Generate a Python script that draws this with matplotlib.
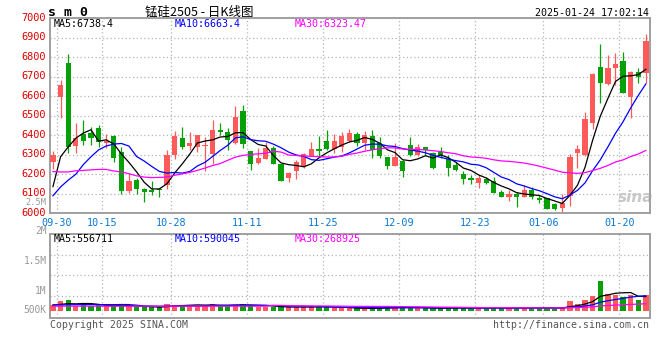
import numpy as np
import matplotlib
matplotlib.use("Agg")
import matplotlib.pyplot as plt
from matplotlib.transforms import ScaledTranslation

# ---------------- data ----------------
dates = ["09-30",
         "10-08", "10-09", "10-10", "10-11", "10-14", "10-15", "10-16", "10-17", "10-18",
         "10-21", "10-22", "10-23", "10-24", "10-25", "10-28", "10-29", "10-30", "10-31", "11-01",
         "11-04", "11-05", "11-06", "11-07", "11-08", "11-11", "11-12", "11-13", "11-14", "11-15",
         "11-18", "11-19", "11-20", "11-21", "11-22", "11-25", "11-26", "11-27", "11-28", "11-29",
         "12-02", "12-03", "12-04", "12-05", "12-06", "12-09", "12-10", "12-11", "12-12", "12-13",
         "12-16", "12-17", "12-18", "12-19", "12-20", "12-23", "12-24", "12-25", "12-26", "12-27",
         "12-30", "12-31", "01-02", "01-03", "01-06", "01-07", "01-08", "01-09", "01-10",
         "01-13", "01-14", "01-15", "01-16", "01-17", "01-20", "01-21", "01-22", "01-23", "01-24"]

opens = [6265, 6598, 6773, 6345, 6407, 6414, 6436, 6359, 6397, 6316,
         6116, 6171, 6125, 6121, 6124, 6145, 6300, 6386, 6347, 6338,
         6345, 6304, 6427, 6415, 6359, 6525, 6320, 6257, 6280, 6337,
         6251, 6179, 6217, 6236, 6296, 6330, 6371, 6330, 6342, 6371,
         6405, 6362, 6398, 6362, 6291, 6243, 6268, 6350, 6299, 6338,
         6308, 6316, 6279, 6248, 6200, 6183, 6157, 6176, 6166, 6108,
         6085, 6099, 6085, 6120, 6080, 6077, 6048, 6026, 6089, 6308,
         6299, 6465, 6752, 6662, 6744, 6781, 6598, 6723, 6721]
highs = [6320, 6684, 6817, 6461, 6479, 6441, 6453, 6405, 6402, 6342,
         6205, 6183, 6130, 6166, 6128, 6325, 6424, 6445, 6419, 6402,
         6393, 6479, 6465, 6436, 6552, 6556, 6320, 6333, 6367, 6345,
         6251, 6210, 6273, 6311, 6364, 6394, 6427, 6407, 6419, 6432,
         6419, 6424, 6427, 6393, 6291, 6359, 6273, 6393, 6354, 6342,
         6313, 6342, 6299, 6265, 6217, 6197, 6197, 6188, 6188, 6120,
         6120, 6111, 6145, 6137, 6094, 6080, 6051, 6099, 6303, 6350,
         6521, 6721, 6868, 6812, 6824, 6829, 6730, 6747, 6920]
lows = [6228, 6490, 6308, 6311, 6350, 6350, 6338, 6333, 6265, 6098,
        6103, 6100, 6060, 6096, 6082, 6125, 6277, 6328, 6325, 6316,
        6217, 6253, 6400, 6325, 6355, 6335, 6222, 6253, 6277, 6253,
        6167, 6162, 6174, 6231, 6294, 6290, 6325, 6311, 6316, 6364,
        6345, 6325, 6282, 6282, 6227, 6243, 6188, 6296, 6294, 6299,
        6227, 6282, 6192, 6219, 6151, 6151, 6132, 6151, 6103, 6082,
        6065, 6034, 6082, 6072, 6051, 6022, 6017, 6000, 6038, 6234,
        6294, 6433, 6564, 6658, 6658, 6615, 6487, 6670, 6670]
closes = [6300, 6658, 6342, 6385, 6373, 6385, 6367, 6373, 6282, 6116,
          6166, 6125, 6108, 6108, 6118, 6300, 6397, 6342, 6362, 6402,
          6350, 6427, 6415, 6376, 6496, 6356, 6251, 6285, 6337, 6253,
          6167, 6205, 6265, 6302, 6330, 6321, 6330, 6371, 6397, 6410,
          6362, 6402, 6325, 6296, 6243, 6291, 6219, 6299, 6342, 6325,
          6231, 6299, 6231, 6222, 6176, 6171, 6183, 6154, 6106, 6085,
          6099, 6085, 6120, 6085, 6068, 6022, 6022, 6055, 6291, 6329,
          6484, 6715, 6667, 6747, 6766, 6619, 6726, 6697, 6884]
volumes = [211000, 368000, 434000, 197000, 211000, 197000, 211000, 211000, 171000, 237000,
           171000, 132000, 132000, 132000, 132000, 276000, 237000, 237000, 197000, 197000,
           237000, 276000, 171000, 171000, 237000, 276000, 237000, 145000, 145000, 145000,
           145000, 145000, 145000, 145000, 145000, 197000, 145000, 95000, 95000, 95000,
           95000, 95000, 95000, 95000, 158000, 158000, 158000, 95000, 95000, 95000,
           95000, 95000, 130000, 95000, 120000, 95000, 120000, 95000, 120000, 95000,
           95000, 120000, 120000, 120000, 95000, 95000, 95000, 120000, 395000, 276000,
           434000, 566000, 1170000, 671000, 605000, 526000, 614000, 434000, 605000]

# moving-average values before a full window is available
ma5_head = [6137, 6290, 6340, 6385]
ma10_head = [6090, 6135, 6170, 6200, 6250, 6290, 6325, 6345, 6355]
ma30_head = [6214, 6212, 6212, 6218, 6220, 6223, 6225, 6225, 6217, 6212,
             6203, 6192, 6186, 6183, 6184, 6186, 6195, 6202, 6210, 6220,
             6232, 6245, 6255, 6272, 6288, 6297, 6302, 6305, 6308]
vma5_head = [225000, 250000, 280000, 270000]
vma10_head = [220000, 225000, 232000, 236000, 240000, 240000, 240000, 240000, 238000]
vma30_head = [180000] * 29

tick_dates = ["09-30", "10-15", "10-28", "11-11", "11-25", "12-09", "12-23", "01-06", "01-20"]
price_ticks = [6000, 6100, 6200, 6300, 6400, 6500, 6600, 6700, 6800, 6900, 7000]
vol_labels = ["2.5M", "2M", "1.5M", "1M", "500K"]

title = "锰硅2505 - 日K线图"
code = "s m 0"
stamp = "2025-01-24 17:02:14"
ma_labels = ["MA5:6738.4", "MA10:6663.4", "MA30:6323.47"]
vma_labels = ["MA5:556711", "MA10:590045", "MA30:268925"]

# ---------------- style ----------------
UP = "#ff5a5a"
DOWN = "#07a007"
MA_COLORS = ["#000000", "#0000ff", "#ff00ff"]
GRID = "#b4b4b4"
FRAME = "#a0a0a0"
MONO = "DejaVu Sans Mono"
W, H = 660, 360

fig = plt.figure(figsize=(W / 100, H / 100), dpi=100)
fig.patch.set_facecolor("white")


def px_axes(l, t, r, b):
    return fig.add_axes([l / W, 1 - b / H, (r - l) / W, (b - t) / H])


def ptext(x, y, s, **kw):
    return fig.text(x / W, 1 - y / H, s, **kw)


def moving(values, n, head):
    v = np.asarray(values, dtype=float)
    full = np.convolve(v, np.ones(n) / n, mode="valid")
    return np.concatenate([np.asarray(head, dtype=float), full])


x = np.arange(len(closes))
o = np.array(opens, float)
c = np.array(closes, float)
hi = np.array(highs, float)
lo = np.array(lows, float)
vol = np.array(volumes, float)
cols = [UP if cc >= oo else DOWN for oo, cc in zip(o, c)]
tick_pos = [dates.index(d) + 0.5 for d in tick_dates]
XLIM = (-0.39, 78.48)

# ---------------- price panel ----------------
ax = px_axes(50, 18.3, 649.5, 213.3)
ax.set_xlim(*XLIM)
ax.set_ylim(6000, 7000)
ax.vlines(x, lo, hi, colors=cols, lw=0.9, zorder=2)
body_b = np.minimum(o, c)
body_h = np.maximum(np.abs(c - o), 3)
ax.bar(x, body_h, bottom=body_b, width=0.7, color=cols, zorder=3, linewidth=0)
for n, head, col in zip((5, 10, 30), (ma5_head, ma10_head, ma30_head), MA_COLORS):
    ax.plot(x, moving(closes, n, head), color=col, lw=0.9, zorder=4)

ax.set_yticks(price_ticks)
ax.set_yticklabels([str(p) for p in price_ticks], fontfamily=MONO, fontsize=7.4)
ax.set_xticks(tick_pos)
ax.set_xticklabels(tick_dates, fontfamily=MONO, fontsize=7.3)
ax.tick_params(axis="y", length=0, pad=3, labelcolor="#e00000")
ax.tick_params(axis="x", length=0, pad=3.5, labelcolor="#0a78d2")
up_shift = ScaledTranslation(0, 0.015, fig.dpi_scale_trans)
for lab in ax.get_yticklabels():
    lab.set_transform(lab.get_transform() + up_shift)
ax.grid(True, color=GRID, linestyle=(0, (1, 2)), lw=0.9, zorder=0)
ax.set_axisbelow(True)
for s in ax.spines.values():
    s.set_color(FRAME)
    s.set_linewidth(1.4)

# watermark
ax.text(0.977, 0.045, "sina", transform=ax.transAxes, ha="center", va="bottom",
        fontsize=11, fontstyle="italic", fontweight="bold", color="#c8c8c8", zorder=1)

# ---------------- volume panel ----------------
vax = px_axes(50, 234, 649.5, 317.5)
vax.set_xlim(*XLIM)
vax.set_ylim(-268600, 3029650)
vax.bar(x, vol, width=0.7, color=cols, zorder=3, linewidth=0)
for n, head, col in zip((5, 10, 30), (vma5_head, vma10_head, vma30_head), MA_COLORS):
    vax.plot(x, moving(volumes, n, head), color=col, lw=0.9, zorder=4)
vax.set_xticks(tick_pos)
vax.set_xticklabels([])
vax.set_yticks([])
vax.tick_params(length=0)
vax.grid(True, axis="x", color=GRID, linestyle=(0, (1, 2)), lw=0.9, zorder=0)
for f in (0.26, 0.507, 0.753):
    vax.plot([0, 1], [f, f], transform=vax.transAxes, color=GRID,
             linestyle=(0, (1, 2)), lw=0.9, zorder=0)
vax.set_axisbelow(True)
for s in vax.spines.values():
    s.set_color(FRAME)
    s.set_linewidth(1.4)

# ---------------- texts ----------------
ptext(48, 12.5, code, fontfamily=MONO, fontweight="bold", fontsize=9.5, va="center", ha="left")
ptext(199, 12, title, fontfamily=["Noto Sans CJK SC", "DejaVu Sans"], fontsize=9,
      va="center", ha="center")
ptext(649, 12.5, stamp, fontfamily=MONO, fontsize=7.2, va="center", ha="right")

for xx, s, col in zip((54, 175, 295), ma_labels, MA_COLORS):
    ptext(xx, 24, s, fontfamily=MONO, fontsize=7.2, color=col, va="center", ha="left")
for xx, s, col in zip((54, 175, 295), vma_labels, MA_COLORS):
    ptext(xx, 239.5, s, fontfamily=MONO, fontsize=7.2, color=col, va="center", ha="left")

for yy, s, fs in zip((202.3, 231, 260.7, 290.7, 310), vol_labels, (6.2, 6.9, 6.9, 6.9, 6.9)):
    ptext(46.5, yy, s, fontfamily=MONO, fontsize=fs, color="#999999", va="center", ha="right")

ptext(50, 324.5, "Copyright 2025 SINA.COM", fontfamily=MONO, fontsize=7.1,
      color="#555555", va="center", ha="left")
ptext(649, 324.5, "http://finance.sina.com.cn", fontfamily=MONO, fontsize=7.1,
      color="#555555", va="center", ha="right")

fig.savefig("out.png", dpi=100)
